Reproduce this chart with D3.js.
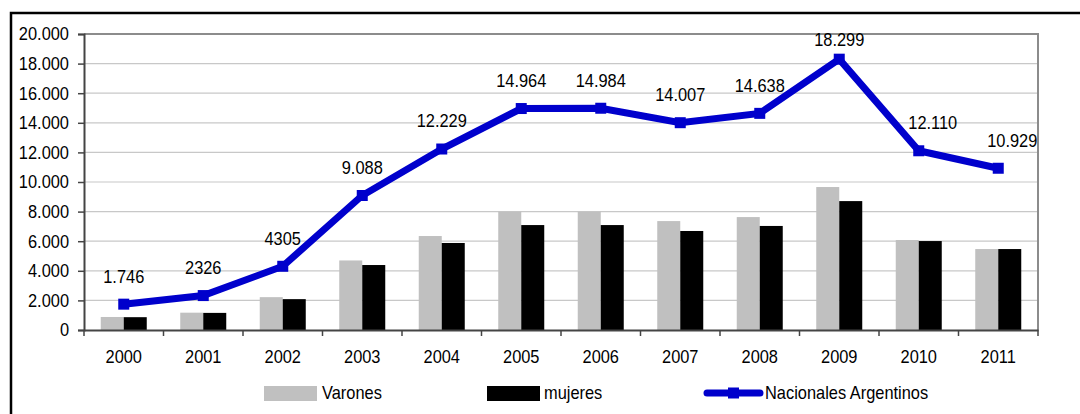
<!DOCTYPE html>
<html><head><meta charset="utf-8">
<script src="https://cdn.jsdelivr.net/npm/d3@7"></script>
<style>
html,body{margin:0;padding:0;background:#fff;}
svg{display:block;}
text{font-family:"Liberation Sans",Arial,sans-serif;transform-box:fill-box;transform-origin:center;transform:scaleY(1.12);}
</style></head>
<body><svg id="c" width="1080" height="414"></svg>
<script>
const years = ["2000","2001","2002","2003","2004","2005","2006","2007","2008","2009","2010","2011"];
const varones = [880,1170,2220,4700,6350,8000,8000,7360,7630,9660,6080,5470];
const mujeres = [866,1156,2085,4390,5880,7090,7090,6690,7030,8710,6010,5470];
const nacionales = [1746,2326,4305,9088,12229,14964,14984,14007,14638,18299,12110,10929];
const nacionalesLabels = ["1.746","2326","4305","9.088","12.229","14.964","14.984","14.007","14.638","18.299","12.110","10.929"];
const yTicks = [0,2000,4000,6000,8000,10000,12000,14000,16000,18000,20000];
const legendNames = ["Varones","mujeres","Nacionales Argentinos"];

const FS = 16.4;
const svg = d3.select("#c");
const L = 84, R = 1038, T = 34, B = 330;
const x = d3.scaleBand().domain(years).range([L, R]);
const y = d3.scaleLinear().domain([0, 20000]).range([B, T]);
const fmt = v => v === 0 ? "0" : d3.format(",")(v).replace(/,/g, ".");

svg.append("path").attr("d", `M11,420 L11,13 L1090,13`).attr("fill","none").attr("stroke","#000").attr("stroke-width",2.5);

svg.append("g").selectAll("line").data(yTicks.filter(d => d > 0 && d < 20000)).join("line")
  .attr("x1", L).attr("x2", R).attr("y1", d => y(d)).attr("y2", d => y(d))
  .attr("stroke", "#c8c8c8").attr("stroke-width", 1.2);

svg.append("path").attr("d", `M${L},${T} L${R},${T} L${R},${B}`).attr("fill","none").attr("stroke","#8c8c8c").attr("stroke-width",2);

const bw = 23;
const cx = d => x(d) + x.bandwidth()/2;
svg.append("g").selectAll("rect").data(years).join("rect")
  .attr("x", d => cx(d) - bw).attr("width", bw)
  .attr("y", (d,i) => y(varones[i])).attr("height", (d,i) => B - y(varones[i]))
  .attr("fill", "#c0c0c0");
svg.append("g").selectAll("rect").data(years).join("rect")
  .attr("x", d => cx(d)).attr("width", bw)
  .attr("y", (d,i) => y(mujeres[i])).attr("height", (d,i) => B - y(mujeres[i]))
  .attr("fill", "#000");

const yAxis = svg.append("g").attr("transform", `translate(${L},0)`)
  .call(d3.axisLeft(y).tickValues(yTicks).tickFormat(fmt).tickSize(6).tickPadding(9));
yAxis.select(".domain").attr("stroke", "#444").attr("stroke-width", 2);
yAxis.selectAll(".tick line").attr("stroke", "#444").attr("stroke-width", 1.5);
yAxis.selectAll("text").attr("font-size", FS).attr("fill", "#000").attr("font-family", null);

const xAxis = svg.append("g").attr("transform", `translate(0,${B})`)
  .call(d3.axisBottom(x).tickSize(0).tickPadding(21));
xAxis.select(".domain").attr("stroke", "#444").attr("stroke-width", 2);
xAxis.selectAll("text").attr("font-size", FS).attr("fill", "#000").attr("font-family", null);
const bounds = years.map(d => x(d)).concat([R]);
svg.append("g").selectAll("line").data(bounds).join("line")
  .attr("x1", d => d).attr("x2", d => d).attr("y1", B).attr("y2", B + 6)
  .attr("stroke", "#444").attr("stroke-width", 1.5);

const line = d3.line().x((d,i) => cx(years[i])).y(d => y(d));
svg.append("path").datum(nacionales).attr("d", line)
  .attr("fill", "none").attr("stroke", "#0000cc").attr("stroke-width", 7).attr("stroke-linejoin", "miter");
svg.append("g").selectAll("rect").data(nacionales).join("rect")
  .attr("x", (d,i) => cx(years[i]) - 5.5).attr("y", d => y(d) - 5.5)
  .attr("width", 11).attr("height", 11).attr("fill", "#0000cc");

svg.append("g").selectAll("text").data(nacionales).join("text")
  .attr("x", (d,i) => cx(years[i]) + (i >= 10 ? 14 : 0))
  .attr("y", d => Math.max(y(d) - 28, 40))
  .attr("dy", "0.35em")
  .attr("text-anchor", "middle").attr("font-size", FS).attr("fill", "#000")
  .text((d,i) => nacionalesLabels[i]);

const lg = svg.append("g").attr("font-size", FS);
lg.append("rect").attr("x", 264).attr("y", 386).attr("width", 53).attr("height", 15).attr("fill", "#c0c0c0");
lg.append("text").attr("x", 322).attr("y", 393).attr("dy","0.35em").text(legendNames[0]);
lg.append("rect").attr("x", 487).attr("y", 386).attr("width", 53).attr("height", 15).attr("fill", "#000");
lg.append("text").attr("x", 544).attr("y", 393).attr("dy","0.35em").text(legendNames[1]);
lg.append("line").attr("x1", 707).attr("x2", 760).attr("y1", 393).attr("y2", 393)
  .attr("stroke", "#0000cc").attr("stroke-width", 7).attr("stroke-linecap", "round");
lg.append("rect").attr("x", 728).attr("y", 387.5).attr("width", 11).attr("height", 11).attr("fill", "#0000cc");
lg.append("text").attr("x", 765).attr("y", 393).attr("dy","0.35em").text(legendNames[2]);
</script></body></html>
